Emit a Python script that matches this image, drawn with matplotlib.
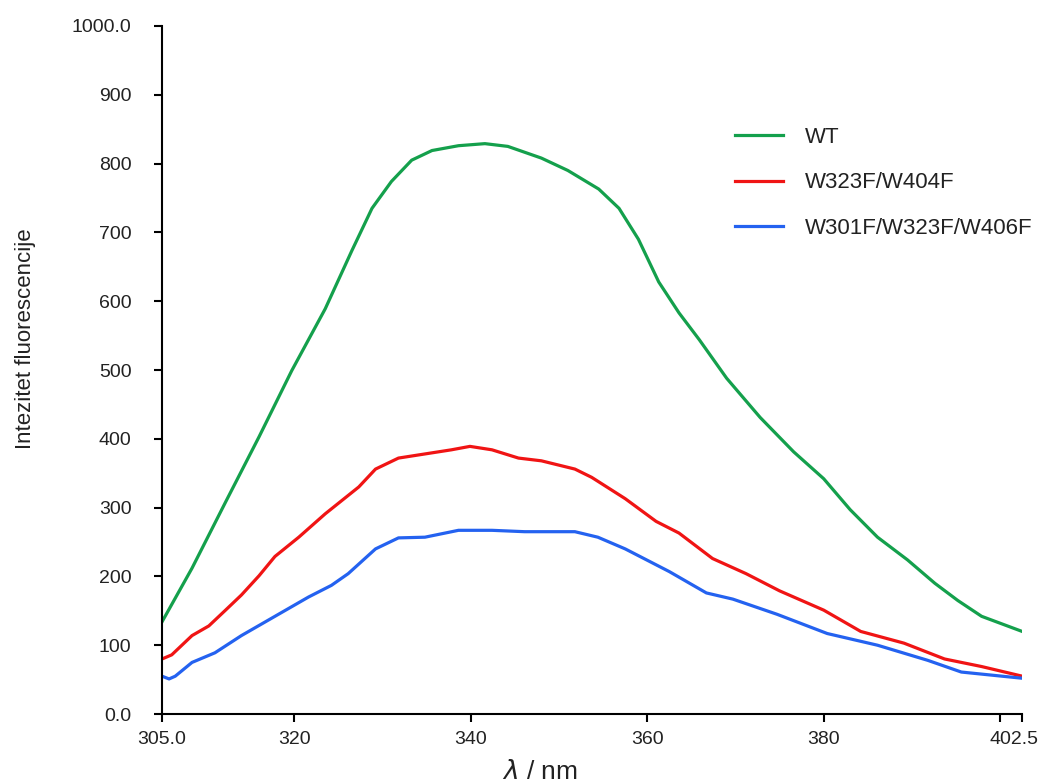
import matplotlib.pyplot as plt
import matplotlib.transforms as mtransforms

plt.rcParams['font.family'] = ['Liberation Sans', 'DejaVu Sans']

# WT
wt_x = [305, 308.4, 312.2, 316, 319.7, 323.5, 326.5, 328.8, 331, 333.3, 335.6, 338.6,
        341.6, 344.2, 348, 351, 354.5, 356.8, 359, 361.3, 363.6, 365.9, 369, 372.8,
        376.6, 380, 383, 386.1, 389.5, 392.6, 395.2, 397.9, 402.5]
wt_y = [134, 212, 308, 403, 499, 589, 673, 735, 774, 805, 819, 826,
        829, 825, 808, 790, 763, 735, 690, 628, 583, 544, 488, 431,
        381, 342, 297, 257, 224, 190, 165, 142, 120]

# W323F/W404F
m2_x = [305, 306.1, 308.4, 310.3, 312.2, 314, 316, 317.8, 320.5, 323.5, 327.3, 329.2,
        331.8, 334.8, 337.8, 339.9, 342.4, 345.4, 348, 351.8, 353.7, 357.5, 361, 363.6,
        367.4, 371.2, 375, 380, 384.2, 389.1, 393.7, 397.9, 402.5]
m2_y = [80, 86, 114, 128, 151, 173, 201, 229, 257, 291, 330, 356,
        372, 378, 384, 389, 384, 372, 368, 356, 344, 313, 280, 263,
        226, 204, 179, 151, 120, 103, 80, 69, 55]

# W301F/W323F/W406F
m3_x = [305, 305.8, 306.5, 308.4, 311, 314, 317.8, 321.6, 324.2, 326.1, 329.2, 331.8,
        334.8, 338.6, 342.4, 346.1, 351.8, 354.4, 357.5, 362.5, 366.7, 369.7, 374.7,
        380.4, 386.1, 391.8, 395.6, 402.5]
m3_y = [55, 51, 55, 75, 89, 114, 142, 170, 187, 204, 240, 256,
        257, 267, 267, 265, 265, 257, 240, 207, 176, 167, 145,
        117, 100, 78, 61, 52]

labels = ['WT', 'W323F/W404F', 'W301F/W323F/W406F']
colors = ['#14a04c', '#f01414', '#2462f0']

x_ticks = [305, 320, 340, 360, 380, 400, 402.5]
x_tick_labels = ['305.0', '320', '340', '360', '380', '', '402.5']
y_ticks = [0, 100, 200, 300, 400, 500, 600, 700, 800, 900, 1000]
y_tick_labels = ['0.0', '100', '200', '300', '400', '500', '600', '700', '800', '900', '1000.0']

fig = plt.figure(figsize=(10.42, 7.83), dpi=100)
ax = fig.add_axes([0.1555, 0.0881, 0.8255, 0.8787])

ax.plot(wt_x, wt_y, color=colors[0], lw=2.3, label=labels[0])
ax.plot(m2_x, m2_y, color=colors[1], lw=2.3, label=labels[1])
ax.plot(m3_x, m3_y, color=colors[2], lw=2.3, label=labels[2])

ax.set_xlim(305, 402.5)
ax.set_ylim(0, 1000)
ax.set_xticks(x_ticks)
ax.set_xticklabels(x_tick_labels)
ax.set_yticks(y_ticks)
ax.set_yticklabels(y_tick_labels)

for s in ['top', 'right']:
    ax.spines[s].set_visible(False)
for s in ['left', 'bottom']:
    ax.spines[s].set_linewidth(1.5)
ax.tick_params(direction='out', length=6, width=1.5, labelsize=14,
               labelcolor='#222222')
ax.tick_params(axis='x', pad=6)
ax.tick_params(axis='y', pad=16)

# zadnja oznaka malo ulijevo da ne bude odrezana
last = ax.get_xticklabels()[-1]
last.set_transform(last.get_transform() +
                   mtransforms.ScaledTranslation(-8 / 100, 0, fig.dpi_scale_trans))

# osi
fig.text(26 / 1042, 1 - 339 / 783, 'Intezitet fluorescencije', rotation=90,
         fontsize=16, color='#222222', ha='center', va='center')
fig.text(540 / 1042, 1 - 760 / 783, r'$\lambda$ / nm', fontsize=19,
         color='#222222', ha='center', va='top')

leg = ax.legend(loc='upper left', bbox_to_anchor=(735 / 1042, 1 - 127 / 783),
                bbox_transform=fig.transFigure, frameon=False, fontsize=16,
                handlelength=2.16, handletextpad=1.0, labelspacing=1.1,
                borderpad=0, borderaxespad=0, labelcolor='#222222')

fig.savefig('out.png', dpi=100)
